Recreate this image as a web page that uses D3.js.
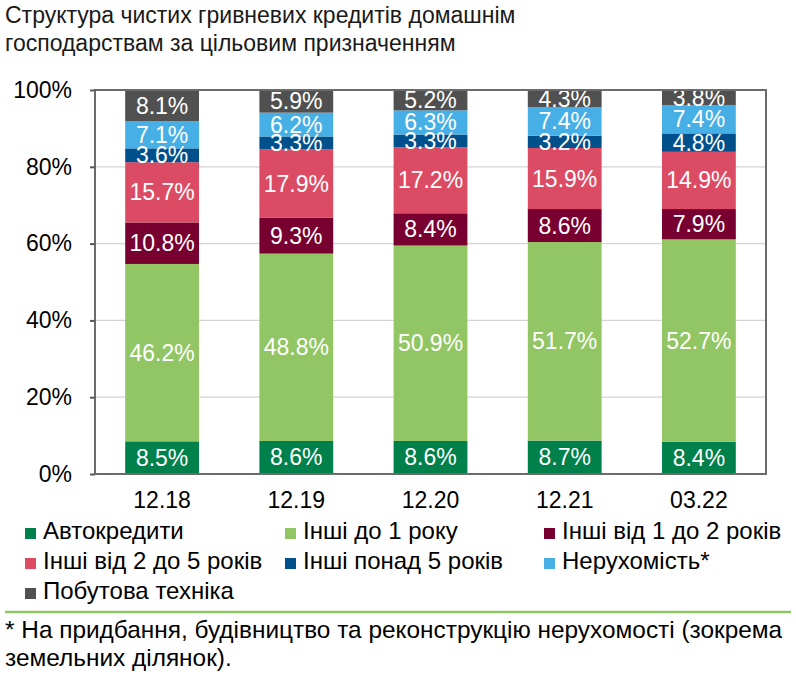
<!DOCTYPE html>
<html><head><meta charset="utf-8">
<script src="https://cdn.jsdelivr.net/npm/d3@7"></script>
<style>body{margin:0;background:#fff}svg{display:block}</style>
</head><body>
<svg id="c" width="796" height="687"></svg>
<script>
const categories = ["12.18","12.19","12.20","12.21","03.22"];
const seriesNames = ["Автокредити","Інші до 1 року","Інші від 1 до 2 років","Інші від 2 до 5 років","Інші понад 5 років","Нерухомість*","Побутова техніка"];
const seriesColors = ["#00804a","#92c664","#780030","#dc4b64","#00508c","#46b0e6","#505050"];
const autoLoans    = [8.5, 8.6, 8.6, 8.7, 8.4];
const otherUpTo1   = [46.2, 48.8, 50.9, 51.7, 52.7];
const other1to2    = [10.8, 9.3, 8.4, 8.6, 7.9];
const other2to5    = [15.7, 17.9, 17.2, 15.9, 14.9];
const otherOver5   = [3.6, 3.3, 3.3, 3.2, 4.8];
const realEstate   = [7.1, 6.2, 6.3, 7.4, 7.4];
const appliances   = [8.1, 5.9, 5.2, 4.3, 3.8];
const yTicks = [0, 20, 40, 60, 80, 100];
const titleLines = ["Структура чистих гривневих кредитів домашнім","господарствам за цільовим призначенням"];
const footnoteLines = ["* На придбання, будівництво та реконструкцію нерухомості (зокрема","земельних ділянок)."];

const seriesValues = [autoLoans, otherUpTo1, other1to2, other2to5, otherOver5, realEstate, appliances];
const rows = categories.map((c, i) => {
  const r = {cat: c};
  seriesNames.forEach((s, j) => r[s] = seriesValues[j][i]);
  return r;
});

const svg = d3.select("#c");
const font = "'Liberation Sans', Arial, sans-serif";
const L = 95, R = 766, T = 90, B = 474;

svg.selectAll("text.title").data(titleLines).enter().append("text")
  .attr("x", 5).attr("y", (d, i) => 23 + i * 28)
  .attr("font-family", font).attr("font-size", 23).attr("fill", "#1a1a1a").text(d => d);

const x = d3.scaleBand().domain(categories).range([L, R]).paddingInner(0.45).paddingOuter(0.225);
const y = d3.scaleLinear().domain([0, 100]).range([B, T]);

// gridlines
svg.append("g").selectAll("line").data(yTicks.filter(t => t > 0 && t < 100)).enter().append("line")
  .attr("x1", L).attr("x2", R).attr("y1", d => y(d)).attr("y2", d => y(d))
  .attr("stroke", "#d4d4d4").attr("stroke-width", 1.2);

const stack = d3.stack().keys(seriesNames)(rows);
const g = svg.append("g");
stack.forEach((layer, j) => {
  g.append("g").selectAll("rect").data(layer).enter().append("rect")
    .attr("x", d => x(d.data.cat)).attr("width", x.bandwidth())
    .attr("y", d => y(d[1])).attr("height", d => y(d[0]) - y(d[1]))
    .attr("fill", seriesColors[j]);
});
stack.forEach((layer, j) => {
  g.append("g").selectAll("text").data(layer).enter().append("text")
    .attr("x", d => x(d.data.cat) + x.bandwidth() / 2)
    .attr("y", d => (y(d[0]) + y(d[1])) / 2 + 8)
    .attr("text-anchor", "middle").attr("font-family", font).attr("font-size", 23)
    .attr("fill", "#fff").text(d => d.data[layer.key].toFixed(1) + "%");
});

// frame
svg.append("rect").attr("x", L).attr("y", T).attr("width", R - L).attr("height", B - T)
  .attr("fill", "none").attr("stroke", "#6b6b6b").attr("stroke-width", 2);

// y axis
const ya = svg.append("g").attr("transform", `translate(${L},0)`)
  .call(d3.axisLeft(y).tickValues(yTicks).tickFormat(d => d + "%").tickSize(5).tickPadding(18));
ya.select(".domain").remove();
ya.selectAll("line").attr("stroke", "#595959").attr("stroke-width", 2);
ya.selectAll("text").attr("font-family", font).attr("font-size", 23).attr("fill", "#000");

// x axis
const xa = svg.append("g").attr("transform", `translate(0,${B})`)
  .call(d3.axisBottom(x).tickSize(0).tickPadding(18));
xa.select(".domain").remove();
xa.selectAll("text").attr("font-family", font).attr("font-size", 23).attr("fill", "#000");

// legend
const colX = [25, 285, 544];
const leg = svg.append("g");
seriesNames.forEach((s, i) => {
  const cx = colX[i % 3], cy = 539 + Math.floor(i / 3) * 30;
  leg.append("rect").attr("x", cx).attr("y", cy - 11).attr("width", 11).attr("height", 11).attr("fill", seriesColors[i]);
  leg.append("text").attr("x", cx + 18).attr("y", cy).attr("font-family", font).attr("font-size", 24)
    .attr("fill", "#000").text(s);
});

svg.append("line").attr("x1", 5).attr("x2", 791).attr("y1", 612).attr("y2", 612)
  .attr("stroke", "#92c664").attr("stroke-width", 2.5);

svg.selectAll("text.foot").data(footnoteLines).enter().append("text")
  .attr("x", 5).attr("y", (d, i) => 638 + i * 28)
  .attr("font-family", font).attr("font-size", 24.4).attr("fill", "#000").text(d => d);
</script>
</body></html>
